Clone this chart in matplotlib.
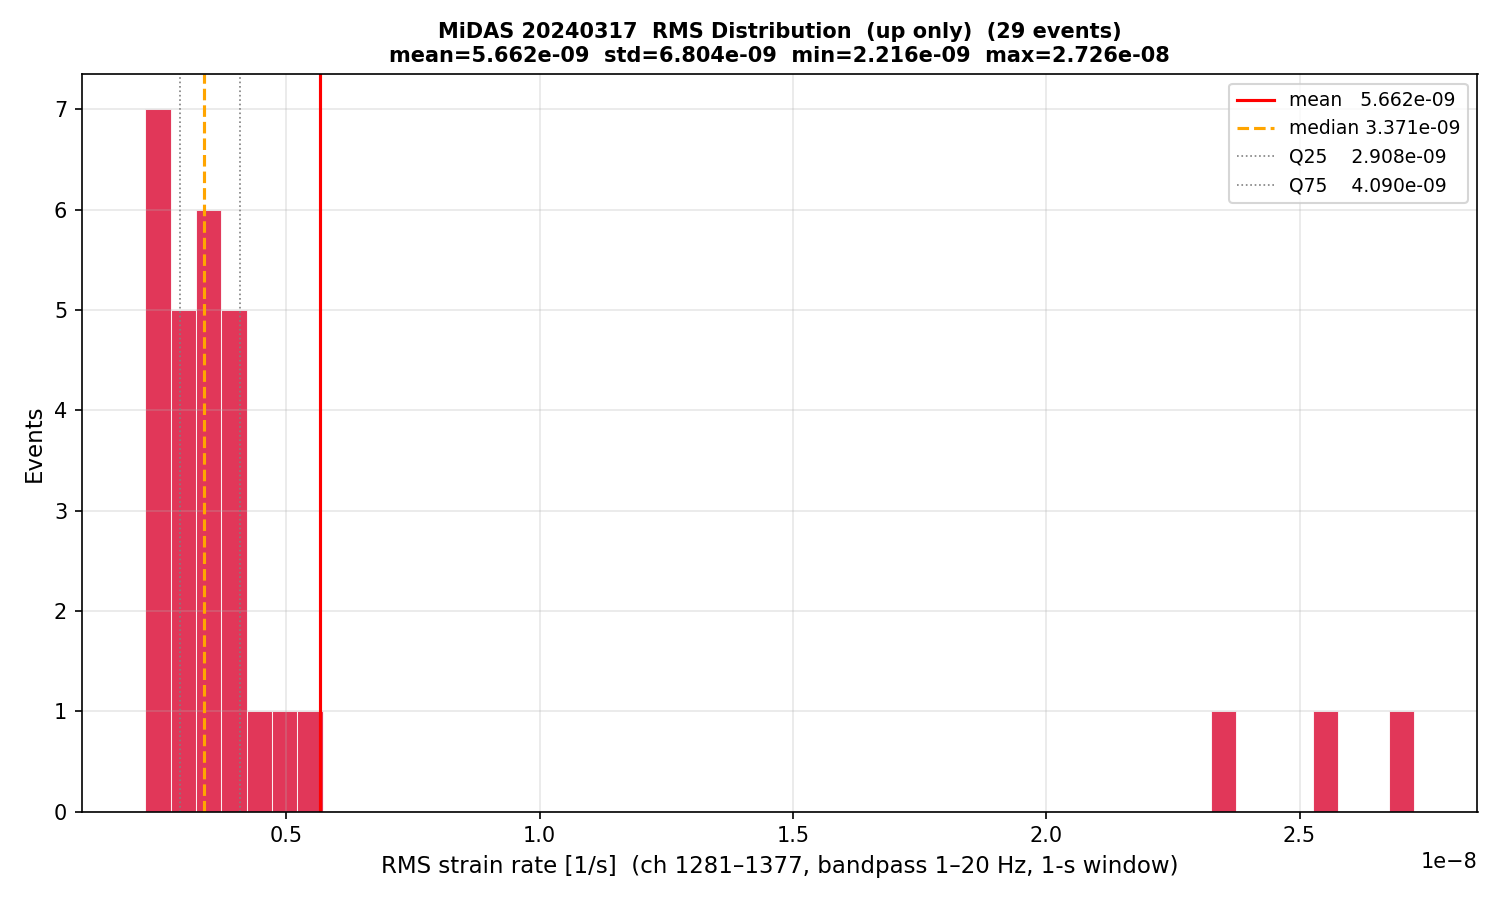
import matplotlib
matplotlib.use("Agg")
import matplotlib.pyplot as plt
import numpy as np

rms_min = 2.216e-9
rms_max = 2.726e-8
n_bins = 50
counts = [7, 5, 6, 5, 1, 1, 1, 0, 0, 0,
          0, 0, 0, 0, 0, 0, 0, 0, 0, 0,
          0, 0, 0, 0, 0, 0, 0, 0, 0, 0,
          0, 0, 0, 0, 0, 0, 0, 0, 0, 0,
          0, 0, 1, 0, 0, 0, 1, 0, 0, 1]
mean_v = 5.662e-9
std_v = 6.804e-9
median_v = 3.371e-9
q25_v = 2.908e-9
q75_v = 4.090e-9
n_events = 29

edges = np.linspace(rms_min, rms_max, n_bins + 1)
centers = 0.5 * (edges[:-1] + edges[1:])

fig, ax = plt.subplots(figsize=(10, 6), dpi=150)
ax.hist(centers, bins=edges, weights=counts, color="crimson", alpha=0.85,
        edgecolor="white", linewidth=0.5)
ax.axvline(mean_v, color="red", lw=1.5, label=f"mean   {mean_v:.3e}")
ax.axvline(median_v, color="orange", lw=1.5, ls="--", label=f"median {median_v:.3e}")
ax.axvline(q25_v, color="gray", lw=0.8, ls=":", label=f"Q25    {q25_v:.3e}")
ax.axvline(q75_v, color="gray", lw=0.8, ls=":", label=f"Q75    {q75_v:.3e}")
ax.set_xlabel("RMS strain rate [1/s]  (ch 1281\u20131377, bandpass 1\u201320 Hz, 1-s window)", fontsize=11)
ax.set_ylabel("Events", fontsize=11)
ax.set_title(f"MiDAS 20240317  RMS Distribution  (up only)  ({n_events} events)\n"
             f"mean={mean_v:.3e}  std={std_v:.3e}  min={rms_min:.3e}  max={rms_max:.3e}",
             fontsize=10, fontweight="bold")
ax.grid(alpha=0.3)
ax.legend(loc="upper right", fontsize=9)
fig.tight_layout()
fig.savefig("out.png")
